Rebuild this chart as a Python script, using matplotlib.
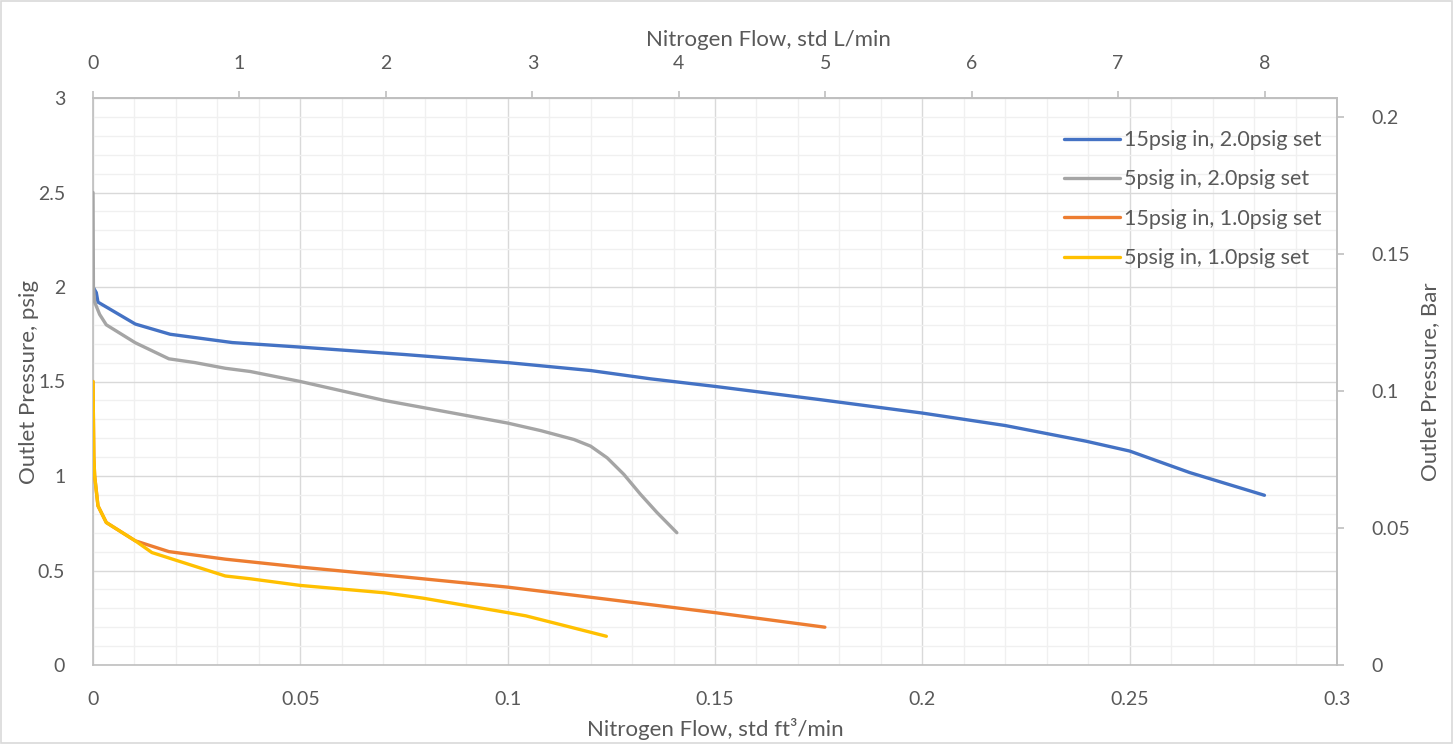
import matplotlib
matplotlib.use('Agg')
import matplotlib.pyplot as plt
from matplotlib.ticker import MultipleLocator, FixedLocator
from matplotlib.patches import Rectangle

plt.rcParams['font.family'] = ['Lato', 'DejaVu Sans']

# flow in std ft3/min, outlet pressure in psig
blue_x = [0, 0.0008, 0.0012, 0.0102, 0.0186, 0.0336, 0.05, 0.075, 0.1, 0.12, 0.1345,
          0.15, 0.175, 0.2, 0.22, 0.2395, 0.25, 0.2645, 0.2825]
blue_y = [2.0, 1.97, 1.92, 1.804, 1.75, 1.706, 1.682, 1.643, 1.6, 1.558, 1.514,
          1.474, 1.405, 1.333, 1.267, 1.184, 1.132, 1.018, 0.898]

gray_x = [0, 0.0001, 0.0004, 0.0016, 0.0032, 0.0102, 0.0183, 0.0246, 0.0319, 0.0379,
          0.05, 0.0702, 0.1, 0.108, 0.116, 0.12, 0.124, 0.128, 0.132, 0.136, 0.1408]
gray_y = [2.5, 2.0, 1.92, 1.855, 1.80, 1.705, 1.62, 1.60, 1.57, 1.553,
          1.5, 1.40, 1.28, 1.24, 1.193, 1.158, 1.096, 1.009, 0.904, 0.807, 0.70]

orange_x = [0, 0.0002, 0.0004, 0.0012, 0.0032, 0.0102, 0.0183, 0.0319, 0.05, 0.075,
            0.1, 0.125, 0.15, 0.1765]
orange_y = [1.5, 1.1, 1.0, 0.842, 0.754, 0.657, 0.60, 0.56, 0.518, 0.466,
            0.412, 0.345, 0.277, 0.2]

yellow_x = [0, 0.0002, 0.0004, 0.0012, 0.0032, 0.0102, 0.0142, 0.0319, 0.038, 0.05,
            0.0703, 0.0795, 0.1, 0.1044, 0.1118, 0.1238]
yellow_y = [1.5, 1.1, 1.0, 0.842, 0.754, 0.657, 0.595, 0.471, 0.456, 0.421,
            0.382, 0.354, 0.277, 0.26, 0.219, 0.152]

labels = ['15psig in, 2.0psig set', '5psig in, 2.0psig set',
          '15psig in, 1.0psig set', '5psig in, 1.0psig set']
colors = ['#4472C4', '#A5A5A5', '#ED7D31', '#FFC000']

x_ticks = [0, 0.05, 0.1, 0.15, 0.2, 0.25, 0.3]
x_ticklabels = ['0', '0.05', '0.1', '0.15', '0.2', '0.25', '0.3']
y_ticks = [0, 0.5, 1, 1.5, 2, 2.5, 3]
y_ticklabels = ['0', '0.5', '1', '1.5', '2', '2.5', '3']
top_ticks = [0, 1, 2, 3, 4, 5, 6, 7, 8]
bar_ticks = [0, 0.05, 0.1, 0.15, 0.2]
bar_ticklabels = ['0', '0.05', '0.1', '0.15', '0.2']

FT3_TO_L = 1 / 0.0353147
PSI_TO_BAR = 0.0689476
text_col = '#595959'

fig = plt.figure(figsize=(14.53, 7.44), dpi=100)
fig.patches.append(Rectangle((0.0005, 0.001), 0.999, 0.998, transform=fig.transFigure,
                             fill=False, edgecolor='#d9d9d9', linewidth=1.2))
ax = fig.add_axes([93 / 1453, 79 / 744, 1244 / 1453, 567 / 744])

series = [(blue_x, blue_y), (gray_x, gray_y), (orange_x, orange_y), (yellow_x, yellow_y)]
for (xs, ys), lab, c in zip(series, labels, colors):
    ax.plot(xs, ys, color=c, lw=2.4, label=lab, solid_capstyle='round', zorder=3)

ax.set_xlim(0, 0.3)
ax.set_ylim(0, 3)
ax.set_xticks(x_ticks, x_ticklabels)
ax.set_yticks(y_ticks, y_ticklabels)
ax.xaxis.set_minor_locator(MultipleLocator(0.01))
ax.yaxis.set_minor_locator(MultipleLocator(0.1))
ax.grid(which='major', color='#d9d9d9', lw=1.0)
ax.grid(which='minor', color='#f0f0f0', lw=1.0)
ax.set_axisbelow(True)
ax.tick_params(which='both', length=0, labelsize=14, colors=text_col)
ax.tick_params(axis='x', pad=19)
ax.tick_params(axis='y', pad=20)
for s in ax.spines.values():
    s.set_color('#bfbfbf')
    s.set_linewidth(1.2)
ax.set_xlabel('Nitrogen Flow, std ft³/min', fontsize=16, color=text_col, labelpad=7)
ax.set_ylabel('Outlet Pressure, psig', fontsize=16, color=text_col, labelpad=-1)

# top axis: L/min
axt = ax.twiny()
axt.set_xlim(0, 0.3 * FT3_TO_L)
axt.xaxis.set_major_locator(FixedLocator(top_ticks))
axt.tick_params(axis='x', length=5, width=1.2, color='#bfbfbf', labelsize=14,
                labelcolor=text_col, pad=14)
axt.set_xlabel('Nitrogen Flow, std L/min', fontsize=16, color=text_col)
axt.xaxis.set_label_coords((768 - 93) / 1244, 1.0 + 52 / 567)
for s in axt.spines.values():
    s.set_visible(False)
axt.spines['top'].set_visible(True)
axt.spines['top'].set_color('#bfbfbf')
axt.spines['top'].set_linewidth(1.2)

# right axis: bar
axr = ax.twinx()
axr.set_ylim(0, 3 * PSI_TO_BAR)
axr.set_yticks(bar_ticks, bar_ticklabels)
axr.tick_params(axis='y', length=5, width=1.2, color='#bfbfbf', labelsize=14,
                labelcolor=text_col, pad=20)
axr.set_ylabel('Outlet Pressure, Bar', fontsize=16, color=text_col, labelpad=7)
for s in axr.spines.values():
    s.set_visible(False)
axr.spines['right'].set_visible(True)
axr.spines['right'].set_color('#bfbfbf')
axr.spines['right'].set_linewidth(1.2)

handles, labs = ax.get_legend_handles_labels()
leg = axr.legend(handles, labs, loc='upper right', bbox_to_anchor=(1.0, 0.97),
                 frameon=False, fontsize=15.5, handlelength=2.6, handletextpad=0.2,
                 labelspacing=0.9, borderaxespad=0.3)
for t in leg.get_texts():
    t.set_color(text_col)

fig.savefig('out.png', dpi=100)
